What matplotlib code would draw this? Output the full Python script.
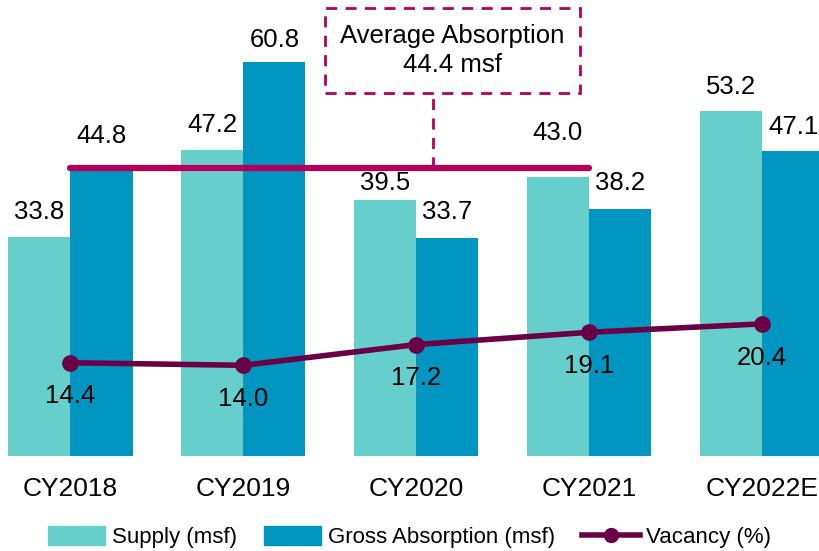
import matplotlib
matplotlib.use("Agg")
import matplotlib.pyplot as plt
import numpy as np
from matplotlib.lines import Line2D
from matplotlib.patches import Patch

years = ["CY2018", "CY2019", "CY2020", "CY2021", "CY2022E"]
supply = [33.8, 47.2, 39.5, 43.0, 53.2]
absorption = [44.8, 60.8, 33.7, 38.2, 47.1]
vacancy = [14.4, 14.0, 17.2, 19.1, 20.4]
avg_absorption = 44.4

# label gaps above bars (data units), nudged where the average line is in the way
supply_gap = [3.9, 3.9, 2.6, 6.9, 3.7]
abs_gap = [4.6, 3.4, 3.9, 4.0, 3.7]

C_SUPPLY = "#66CFCB"
C_ABS = "#0096C1"
C_VAC = "#6A0046"
C_AVG = "#B5005B"

FS = 18.5

plt.rcParams["font.family"] = ["Liberation Sans", "DejaVu Sans"]

fig = plt.figure(figsize=(8.19, 5.51), dpi=100)
ax = fig.add_axes([0.0098, 1 - 456 / 551, 1 - 0.0098, 456 / 551])

x = np.arange(len(years))
w = 0.36
ax.bar(x - w / 2, supply, w, color=C_SUPPLY)
ax.bar(x + w / 2, absorption, w, color=C_ABS)

for xi, s, a, gs, ga in zip(x, supply, absorption, supply_gap, abs_gap):
    ax.text(xi - w / 2, s + gs, f"{s:.1f}", ha="center", va="center",
            fontsize=FS, zorder=6)
    ax.text(xi + w / 2, a + ga, f"{a:.1f}", ha="center", va="center",
            fontsize=FS, zorder=6)

ax.plot(x, vacancy, color=C_VAC, lw=4, marker="o", ms=11, zorder=4)
for xi, v in zip(x, vacancy):
    ax.text(xi, v - 5.2, f"{v:.1f}", ha="center", va="center", fontsize=FS)

# average absorption line and callout box
ax.plot([x[0], x[3]], [avg_absorption, avg_absorption], color=C_AVG, lw=4.5,
        solid_capstyle="round", zorder=3)
ax.plot([2.1, 2.1], [avg_absorption, 56.0], color=C_AVG, lw=2, ls=(0, (4, 3)))
ax.text(2.21, 62.6, "Average Absorption\n44.4 msf", ha="center", va="center",
        fontsize=FS, linespacing=1.3,
        bbox=dict(boxstyle="square,pad=0.6", fc="white", ec=C_AVG, lw=2,
                  ls=(0, (4, 3))))

ax.set_xlim(-0.36, 4.33)
ax.set_ylim(0, 70.4)
ax.set_xticks(x)
ax.set_xticklabels(years, fontsize=19)
ax.tick_params(axis="x", length=0, pad=15)
ax.set_yticks([])
for sp in ax.spines.values():
    sp.set_visible(False)

handles = [
    Patch(color=C_SUPPLY, label="Supply (msf)"),
    Patch(color=C_ABS, label="Gross Absorption (msf)"),
    Line2D([], [], color=C_VAC, lw=4, marker="o", ms=10, label="Vacancy (%)"),
]
fig.legend(handles=handles, loc="center", bbox_to_anchor=(0.5, 1 - 537 / 551),
           ncol=3, frameon=False, handlelength=2.6,
           handleheight=0.9, columnspacing=1.2, handletextpad=0.3,
           prop={"family": ["Liberation Sans", "DejaVu Sans"], "size": 16})

fig.savefig("out.png", dpi=100)
